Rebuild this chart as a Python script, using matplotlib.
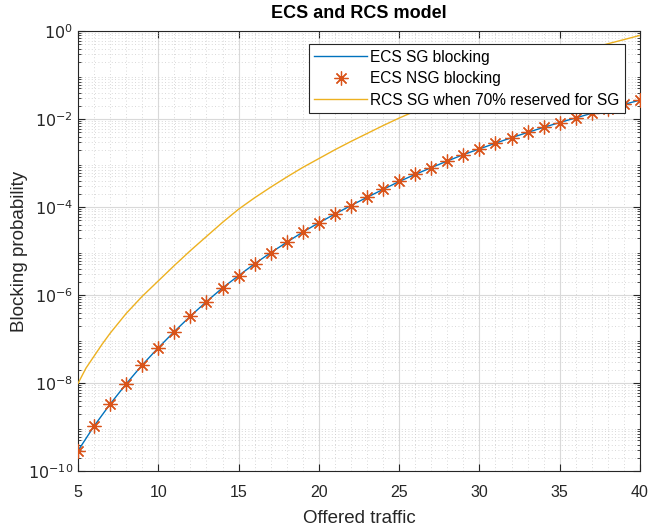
import matplotlib
matplotlib.use("Agg")
import matplotlib.pyplot as plt
from matplotlib.ticker import MultipleLocator, LogLocator, NullFormatter, FixedLocator

plt.rcParams['font.family'] = ['Liberation Sans', 'DejaVu Sans']

offered_traffic = list(range(5, 41))

ecs_sg_blocking = [2.88e-10, 1.05e-9, 3.31e-9, 9.55e-9, 2.57e-8, 6.31e-8, 1.48e-7, 3.31e-7,
                   7.08e-7, 1.45e-6, 2.75e-6, 5.13e-6, 9.12e-6, 1.58e-5, 2.69e-5, 4.37e-5,
                   6.92e-5, 1.08e-4, 1.66e-4, 2.51e-4, 3.80e-4, 5.50e-4, 7.85e-4, 1.11e-3,
                   1.55e-3, 2.09e-3, 2.82e-3, 3.76e-3, 4.95e-3, 6.46e-3, 8.32e-3, 1.06e-2,
                   1.35e-2, 1.70e-2, 2.14e-2, 2.69e-2]

ecs_nsg_blocking = [2.88e-10, 1.05e-9, 3.31e-9, 9.55e-9, 2.57e-8, 6.31e-8, 1.48e-7, 3.31e-7,
                    7.08e-7, 1.45e-6, 2.75e-6, 5.13e-6, 9.12e-6, 1.58e-5, 2.69e-5, 4.37e-5,
                    6.92e-5, 1.08e-4, 1.66e-4, 2.51e-4, 3.80e-4, 5.50e-4, 7.85e-4, 1.11e-3,
                    1.55e-3, 2.09e-3, 2.82e-3, 3.76e-3, 4.95e-3, 6.46e-3, 8.32e-3, 1.06e-2,
                    1.35e-2, 1.70e-2, 2.14e-2, 2.69e-2]

rcs_traffic = [5, 5.5, 6, 6.5] + list(range(7, 41))
rcs_sg_blocking = [9.77e-9, 2.19e-8, 4.07e-8, 7.59e-8, 1.35e-7, 3.80e-7, 9.33e-7, 2.09e-6,
                   4.68e-6, 1.02e-5, 2.14e-5, 4.47e-5, 8.91e-5, 1.62e-4, 2.82e-4, 4.79e-4,
                   7.94e-4, 1.26e-3, 2.00e-3, 3.09e-3, 4.68e-3, 7.08e-3, 1.05e-2, 1.51e-2,
                   2.16e-2, 3.05e-2, 4.27e-2, 5.89e-2, 8.04e-2, 0.108, 0.145, 0.191,
                   0.248, 0.320, 0.407, 0.513, 0.638, 0.794]

labels = ["ECS SG blocking", "ECS NSG blocking", "RCS SG when 70% reserved for SG"]
x_ticks = [5, 10, 15, 20, 25, 30, 35, 40]
y_ticks = [1e-10, 1e-8, 1e-6, 1e-4, 1e-2, 1e0]
y_ticklabels = [r"$10^{-10}$", r"$10^{-8}$", r"$10^{-6}$", r"$10^{-4}$", r"$10^{-2}$", r"$10^{0}$"]

c_blue = (0.0, 0.447, 0.741)
c_orange = (0.850, 0.325, 0.098)
c_yellow = (0.929, 0.694, 0.125)
axc = (0.15, 0.15, 0.15)

fig = plt.figure(figsize=(6.48, 5.29), dpi=100)
ax = fig.add_axes([78/648, 1 - 471/529, 562/648, 440/529])

ax.plot(offered_traffic, ecs_sg_blocking, color=c_blue, lw=1.0, label=labels[0], zorder=3)
ax.plot(offered_traffic, ecs_nsg_blocking, linestyle='none', marker=(8, 2, 0), markersize=10,
        markeredgewidth=0.9, color=c_orange, label=labels[1], zorder=4)
ax.plot(rcs_traffic, rcs_sg_blocking, color=c_yellow, lw=1.0, label=labels[2], zorder=3)

ax.set_yscale('log')
ax.set_xlim(5, 40)
ax.set_ylim(1e-10, 1e0)
ax.xaxis.set_major_locator(FixedLocator(x_ticks))
ax.xaxis.set_minor_locator(MultipleLocator(1))
ax.yaxis.set_major_locator(FixedLocator(y_ticks))
ax.set_yticklabels(y_ticklabels)
ax.yaxis.set_minor_locator(LogLocator(base=10, subs=range(2, 10), numticks=100))
ax.yaxis.set_minor_formatter(NullFormatter())

ax.grid(True, which='major', color=(0.85, 0.85, 0.85), lw=0.8, linestyle='-', zorder=0)
ax.grid(True, which='minor', color=(0.8, 0.8, 0.8), lw=0.6, linestyle=(0, (1, 3)), zorder=0)
ax.set_axisbelow(True)

ax.tick_params(which='both', direction='in', top=True, right=True, colors=axc,
               labelsize=11.5, labelcolor=axc)
ax.tick_params(which='major', length=5)
ax.tick_params(which='minor', length=2.5)
ax.tick_params(axis='x', which='minor', length=0)
ax.tick_params(axis='x', pad=10)
for s in ax.spines.values():
    s.set_color(axc)
    s.set_linewidth(0.8)

ax.set_title("ECS and RCS model", fontsize=13, fontweight='bold', color='black', pad=9)
ax.set_xlabel("Offered traffic", fontsize=13.5, color=axc, labelpad=7)
ax.set_ylabel("Blocking probability", fontsize=13.5, color=axc, labelpad=0)

leg = ax.legend(loc='upper right', bbox_to_anchor=(0.973, 0.970), borderaxespad=0,
                fancybox=False, edgecolor=axc, framealpha=1, fontsize=11.2,
                handlelength=3.4, handletextpad=0.2, borderpad=0.35, labelspacing=0.42)
leg.get_frame().set_linewidth(0.8)

fig.savefig("out.png", dpi=100)
